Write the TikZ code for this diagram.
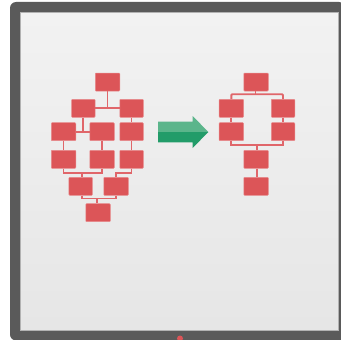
\documentclass[tikz,border=0pt]{standalone}
\usepackage{tikz}
\definecolor{frameC}{HTML}{5A5A5A}
\definecolor{boxC}{HTML}{DC5558}
\definecolor{boxB}{HTML}{E88A8C}
\definecolor{lineC}{HTML}{E0666A}
\definecolor{bgTop}{HTML}{F2F2F2}
\definecolor{bgBot}{HTML}{E6E6E6}
\definecolor{arrowL}{HTML}{5BB58B}
\definecolor{arrowD}{HTML}{229C69}
\tikzset{
  boxnode/.style={draw=boxB,line width=0.5pt,fill=boxC,rounded corners=0.8pt,inner sep=0pt,minimum height=18pt},
  wide/.style={boxnode,minimum width=24.5pt},
  narrow/.style={boxnode,minimum width=23.5pt},
  link/.style={draw=lineC,line width=1.9pt}
}
\begin{document}
\begin{tikzpicture}[x=1pt,y=-1pt]
\useasboundingbox (0,0) rectangle (341,340);
\fill[white] (0,0) rectangle (341,340);
\begin{scope}
\clip (0,0) rectangle (341,340);
\fill[frameC,rounded corners=6pt] (10,2) rectangle (345,340.5);
\shade[top color=bgTop,bottom color=bgBot] (20.5,12.5) rectangle (338.5,330);
\draw[white!70!black,line width=0.8pt] (20.5,12.5) rectangle (338.5,330);
\fill[boxC] (180,338.5) circle (3);
\end{scope}
% connector junctions
\coordinate (u1) at (82,173);
\coordinate (u2) at (116.3,173);
\coordinate (v1) at (97,198.5);
\coordinate (w1) at (255.5,94.2);
\coordinate (w2) at (256.7,145.4);
% left tree
\node[wide] (a1) at (107.5,82) {};
\node[narrow] (b1) at (83.3,108.3) {};
\node[narrow] (b2) at (131.5,108.3) {};
\node[wide] (c1) at (63.5,131.7) {};
\node[wide] (c2) at (102,131.7) {};
\node[narrow] (c3) at (131.5,131.7) {};
\node[wide] (d1) at (63.5,159.3) {};
\node[wide] (d2) at (102,159.3) {};
\node[narrow] (d3) at (131.5,159.3) {};
\node[narrow] (e1) at (80.7,186.3) {};
\node[wide] (e2) at (116,186.3) {};
\node[wide] (f1) at (98,212.7) {};
\path[link] (a1.south) -- (a1.south |- b1.east);
\path[link] (b1.east) -- (b2.west);
\path[link] (b1.south) -- (b1.south |- c1.east);
\path[link] (c1.east) -- (c2.west);
\path[link] (b2.south) -- (c3.north);
\path[link] (c1.south) -- (d1.north);
\path[link] (c2.south) -- (d2.north);
\path[link] (c3.south) -- (d3.north);
\path[link] (d1.south) |- (u1) -| (d2.south);
\path[link] (u1) -- (u1 |- e1.north);
\path[link] (d3.south) |- (u2) -- (u2 |- e2.north);
\path[link] (e1.south -| u1) |- (v1) -| (e2.south -| u2);
\path[link] (v1) -- (v1 |- f1.north);
% right tree
\node[wide] (g1) at (256,82) {};
\node[wide] (h1) at (231.3,108.3) {};
\node[narrow] (h2) at (283,108.3) {};
\node[wide] (i1) at (231.3,131.7) {};
\node[narrow] (i2) at (283,131.7) {};
\node[wide] (j1) at (256,159.3) {};
\node[wide] (k1) at (256,186.3) {};
\path[link] (g1.south -| w1) -- (w1);
\path[link,rounded corners=1pt] (h1.north) |- (w1) -| (h2.north);
\path[link] (h1.south) -- (i1.north);
\path[link] (h2.south) -- (i2.north);
\path[link] (i1.south) |- (w2) -| (i2.south);
\path[link] (w2) -- (w2 |- j1.north);
\path[link] (j1.south -| w2) -- (k1.north -| w2);
% arrow
\fill[arrowL] (158,121.7) -- (192.7,121.7) -- (192.7,116) -- (208.3,132) -- (158,132) -- cycle;
\fill[arrowD] (158,132) -- (208.3,132) -- (192.7,148) -- (192.7,142.3) -- (158,142.3) -- cycle;
\end{tikzpicture}
\end{document}
